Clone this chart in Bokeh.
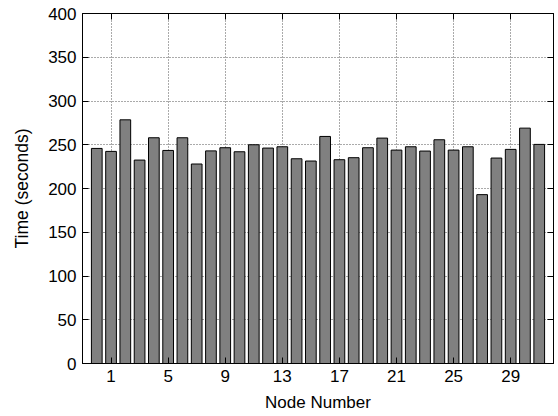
from bokeh.plotting import figure
from bokeh.models import Range1d, LinearAxis, FixedTicker
from bokeh.embed import file_html
from bokeh.resources import INLINE

nodes = list(range(0, 32))
times = [245.8, 242.4, 278.5, 232.5, 258.0, 243.5, 258.0, 228.0,
         243.0, 246.6, 242.0, 250.0, 246.2, 247.7, 234.0, 231.4,
         259.5, 232.9, 235.2, 246.6, 257.6, 243.9, 247.7, 242.8,
         255.7, 243.9, 247.7, 193.0, 234.8, 244.7, 269.0, 250.4]
x_ticks = [1, 5, 9, 13, 17, 21, 25, 29]
y_ticks = [0, 50, 100, 150, 200, 250, 300, 350, 400]

FONT = "Liberation Sans"
FS = "17px"

p = figure(width=558, height=416, output_backend="svg", toolbar_location=None,
           x_range=Range1d(-1, 32), y_range=Range1d(0, 400),
           min_border_left=82, min_border_right=5, min_border_top=13,
           min_border_bottom=53, x_axis_label="Node Number",
           y_axis_label="Time (seconds)")
p.background_fill_color = "white"
p.border_fill_color = "white"
p.outline_line_color = "black"
p.outline_line_width = 1

p.vbar(x=nodes, top=times, width=0.75, bottom=0,
       fill_color="#808080", line_color="black", line_width=1)

for ax in p.xaxis + p.yaxis:
    ax.major_tick_in = 6
    ax.major_tick_out = 0
    ax.minor_tick_in = 0
    ax.minor_tick_out = 0
    ax.axis_line_color = "black"
    ax.major_tick_line_color = "black"
    ax.major_label_text_font = FONT
    ax.major_label_text_font_size = FS
    ax.major_label_text_color = "black"
    ax.axis_label_text_font = FONT
    ax.axis_label_text_font_size = FS
    ax.axis_label_text_font_style = "normal"
    ax.axis_label_text_color = "black"
    ax.major_label_standoff = 6

p.xaxis.axis_label_standoff = 8
p.yaxis.axis_label_standoff = 13
p.yaxis.axis_label_text_font_size = "17.5px"

p.xaxis.ticker = FixedTicker(ticks=x_ticks)
p.yaxis.ticker = FixedTicker(ticks=y_ticks)

right = LinearAxis(ticker=FixedTicker(ticks=y_ticks), major_tick_in=6, major_tick_out=0,
                   minor_tick_in=0, minor_tick_out=0,
                   major_label_overrides={t: "" for t in y_ticks},
                   major_label_standoff=0, axis_line_color="black")
top = LinearAxis(ticker=FixedTicker(ticks=x_ticks), major_tick_in=6, major_tick_out=0,
                 minor_tick_in=0, minor_tick_out=0,
                 major_label_overrides={t: "" for t in x_ticks},
                 major_label_standoff=0, axis_line_color="black")
p.add_layout(right, "right")
p.add_layout(top, "above")

p.xgrid.ticker = FixedTicker(ticks=x_ticks)
p.ygrid.ticker = FixedTicker(ticks=y_ticks)
for g in (p.xgrid, p.ygrid):
    g.grid_line_color = "#555555"
    g.grid_line_dash = "1 2"
    g.grid_line_width = 1

open("out.html", "w").write(file_html(p, INLINE))
